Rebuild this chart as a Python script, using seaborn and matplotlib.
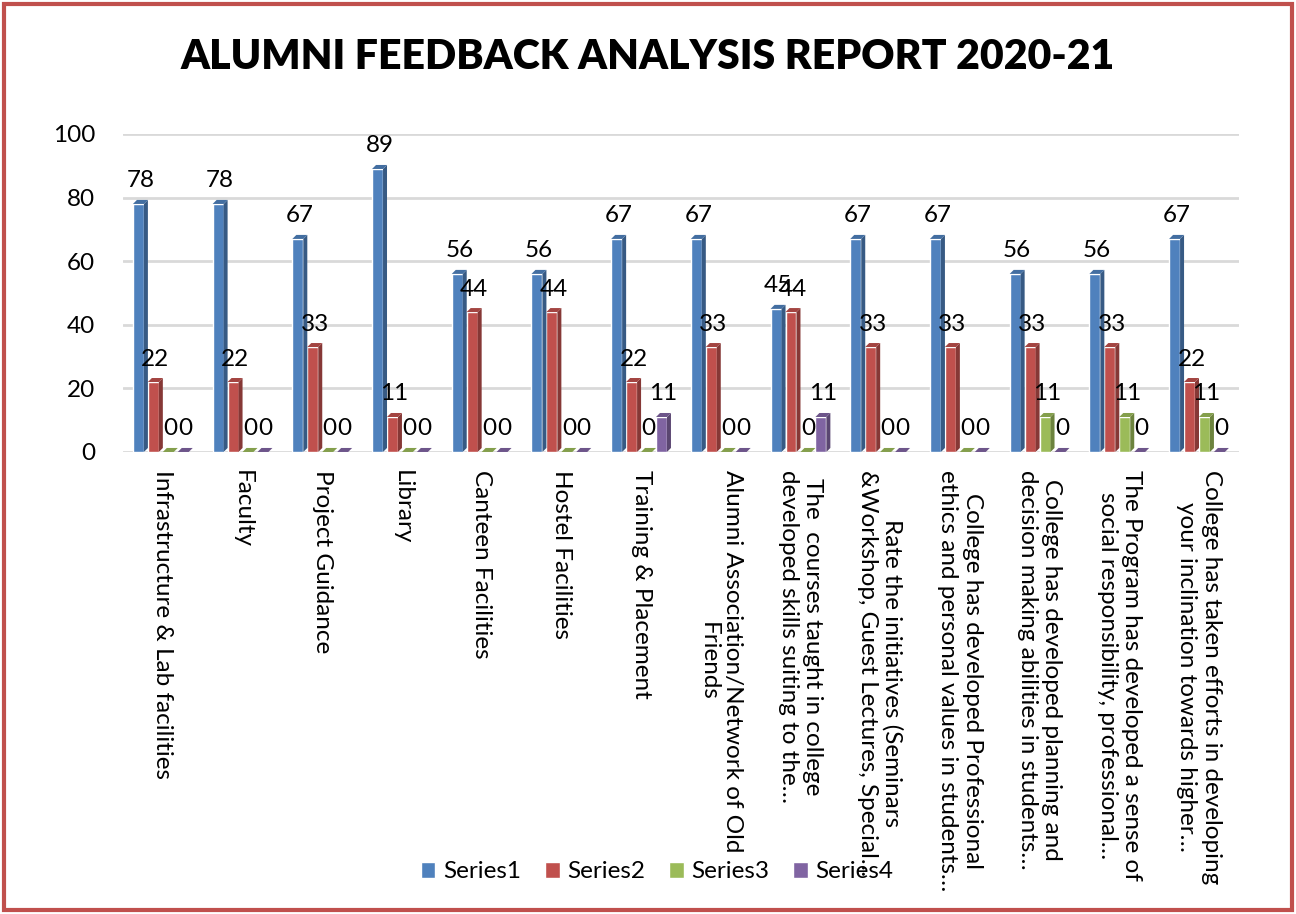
import numpy as np
import pandas as pd
import matplotlib
matplotlib.use('Agg')
import matplotlib.pyplot as plt
import seaborn as sns
from matplotlib.patches import Polygon, Patch, Rectangle

# Data
categories = [
    "Infrastructure & Lab facilities",
    "Faculty",
    "Project Guidance",
    "Library",
    "Canteen Facilities",
    "Hostel Facilities",
    "Training & Placement",
    "Alumni Association/Network of Old\nFriends",
    "The  courses taught in college\ndeveloped skills suiting to the…",
    "Rate the initiatives (Seminars\n&Workshop, Guest Lectures, Special…",
    "College has developed Professional\nethics and personal values in students…",
    "College has developed planning and\ndecision making abilities in students…",
    "The Program has developed a sense of\nsocial responsibility, professional…",
    "College has taken efforts in developing\nyour inclination towards higher…",
]
series_names = ["Series1", "Series2", "Series3", "Series4"]
series1 = [78, 78, 67, 89, 56, 56, 67, 67, 45, 67, 67, 56, 56, 67]
series2 = [22, 22, 33, 11, 44, 44, 22, 33, 44, 33, 33, 33, 33, 22]
series3 = [0, 0, 0, 0, 0, 0, 0, 0, 0, 0, 0, 11, 11, 11]
series4 = [0, 0, 0, 0, 0, 0, 11, 0, 11, 0, 0, 0, 0, 0]
colors = ["#4F81BD", "#C0504D", "#9BBB59", "#8064A2"]

# long format for seaborn
rows = []
for name, vals in zip(series_names, [series1, series2, series3, series4]):
    for cat, v in zip(categories, vals):
        rows.append({"category": cat, "series": name, "value": v})
df = pd.DataFrame(rows)

sns.set_style("white")
plt.rcParams['font.family'] = ['Lato', 'DejaVu Sans']
plt.rcParams['text.color'] = 'black'
plt.rcParams['xtick.color'] = 'black'
plt.rcParams['ytick.color'] = 'black'

fig = plt.figure(figsize=(12.96, 9.14), dpi=100)
ax = fig.add_axes([0.0949, 0.5055, 0.861, 0.3479])

sns.barplot(data=df, x="category", y="value", hue="series", palette=colors,
            width=0.75, saturation=1, ax=ax, legend=False, zorder=3)

# fake 3D look: shrink front face, add a dark side and a top cap
dx, dy = 0.05, 1.26
for cont, col in zip(ax.containers, colors):
    rgb = np.array(matplotlib.colors.to_rgb(col))
    for bar in cont.patches:
        x0 = bar.get_x()
        w = bar.get_width()
        h = bar.get_height()
        bar.set_width(w - dx)
        x1 = x0 + w - dx
        side = Polygon([(x1, 0), (x1 + dx, dy), (x1 + dx, h + dy), (x1, h)],
                       closed=True, facecolor=rgb * 0.7, edgecolor='none', zorder=3)
        top = Polygon([(x0, h), (x0 + dx, h + dy), (x1 + dx, h + dy), (x1, h)],
                      closed=True, facecolor=rgb * 0.85, edgecolor='none', zorder=3)
        ax.add_patch(side)
        ax.add_patch(top)
        ax.annotate(f"{h:.0f}", (x0 + w / 2, h), xytext=(0, 9),
                    textcoords='offset points', ha='center', va='bottom',
                    fontsize=17.5, zorder=5)

ax.set_ylim(0, 100)
ax.set_xlim(-0.5, len(categories) - 0.5)
ax.set_yticks(range(0, 101, 20))
ax.yaxis.grid(True, color='#d9d9d9', lw=2, zorder=0)
ax.set_axisbelow(True)
sns.despine(ax=ax, left=True, bottom=True)
ax.set_xlabel("")
ax.set_ylabel("")
ax.tick_params(axis='y', length=0, pad=20, labelsize=17.5)
ax.tick_params(axis='x', length=0, pad=13)
ax.set_xticks(range(len(categories)))
ax.set_xticklabels(categories, rotation=270, va='top', ha='center',
                   multialignment='center', fontsize=17.5)

fig.text(0.5, 0.938, "ALUMNI FEEDBACK ANALYSIS REPORT 2020-21",
         ha='center', va='center', fontsize=29.5, fontweight='heavy')

handles = [Patch(facecolor=c, label=n) for c, n in zip(colors, series_names)]
fig.legend(handles=handles, loc='center', bbox_to_anchor=(0.507, 0.046), ncol=4,
           frameon=False, handlelength=0.6, handleheight=0.6, columnspacing=1.0,
           handletextpad=0.3, fontsize=17.5)

fig.patches.append(Rectangle((0.003, 0.004), 0.994, 0.992, transform=fig.transFigure,
                             fill=False, edgecolor='#C0504D', lw=3))

fig.savefig("out.png", dpi=100, facecolor='white')
